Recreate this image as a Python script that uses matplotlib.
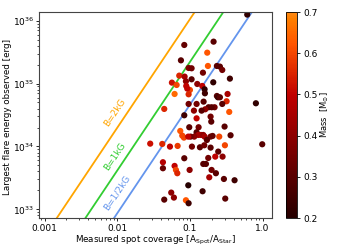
import numpy as np
import matplotlib
matplotlib.use("Agg")
import matplotlib.pyplot as plt
from matplotlib.colors import LinearSegmentedColormap

# ---- data ----
spot_cov = [0.615, 0.0836, 0.2116, 0.1731, 0.0752, 0.1769, 0.2351, 0.0959, 0.1054, 0.2587,
            0.2785, 0.151, 0.0713, 0.0845, 0.2094, 0.3549, 0.1054, 0.0565, 0.0881, 0.1262,
            0.0656, 0.0890, 0.1478, 0.100, 0.1591, 0.1608, 0.0919, 0.0615, 0.0959, 0.2351,
            0.2427, 0.2587, 0.3297, 0.809, 0.3195, 0.1542, 0.0959, 0.1235, 0.2785, 0.2184,
            0.1986, 0.1806, 0.1625, 0.1447, 0.1135, 0.3475, 0.0836, 0.1235, 0.1925, 0.1966,
            0.2998, 0.0979, 0.1316, 0.0736, 0.0784, 0.0827, 0.1235, 0.1302, 0.1417, 0.1526,
            0.1147, 0.1021, 0.1591, 0.0949, 0.3625, 0.2532, 0.1925, 0.205, 0.1713, 0.3030,
            0.1065, 0.0677, 0.1373, 0.1575, 0.1925, 0.989, 0.2453, 0.2231, 0.0836, 0.1787,
            0.2813, 0.1526, 0.166, 0.0615, 0.0642, 0.0670, 0.0990, 0.1986, 0.2278, 0.1845,
            0.2936, 0.4115, 0.0949, 0.0553, 0.0602, 0.1493, 0.0881, 0.0959, 0.3062, 0.0531,
            0.0443, 0.0284, 0.0416, 0.0425, 0.0425, 0.0443]
flare_energy = [1.25e36, 4.11e35, 4.64e35, 3.10e35, 2.34e35, 1.905e35, 1.905e35, 1.77e35, 1.75e35, 1.86e35,
                1.645e35, 1.49e35, 1.337e35, 1.29e35, 1.047e35, 1.198e35, 1.169e35, 1.035e35, 1.086e35, 9.85e34,
                9.50e34, 9.16e34, 9.16e34, 7.91e34, 8.11e34, 7.0e34, 8.31e34, 6.83e34, 6.75e34, 6.35e34,
                6.05e34, 6.05e34, 6.83e34, 4.86e34, 5.23e34, 5.16e34, 4.74e34, 4.74e34, 4.74e34, 4.20e34,
                4.20e34, 4.20e34, 3.90e34, 3.71e34, 3.71e34, 3.54e34, 3.13e34, 2.80e34, 2.98e34, 2.48e34,
                2.07e34, 2.02e34, 2.02e34, 1.764e34, 1.487e34, 1.382e34, 1.68e34, 1.523e34, 1.523e34, 1.523e34,
                1.433e34, 1.433e34, 1.433e34, 1.433e34, 1.505e34, 1.433e34, 1.433e34, 1.469e34, 1.268e34, 1.044e34,
                9.94e33, 1.019e34, 9.70e33, 1.044e34, 9.58e33, 1.083e34, 8.28e33, 6.89e33, 6.49e33, 6.56e33,
                6.89e33, 5.27e33, 5.27e33, 4.90e33, 4.23e33, 3.75e33, 4.23e33, 4.23e33, 3.75e33, 3.23e33,
                3.04e33, 2.90e33, 2.41e33, 1.845e33, 1.537e33, 1.938e33, 1.394e33, 1.249e33, 1.482e33, 9.94e33,
                3.95e34, 1.108e34, 1.096e34, 5.61e33, 4.50e33, 1.427e33]
mass = [0.22, 0.32, 0.30, 0.62, 0.30, 0.62, 0.30, 0.38, 0.35, 0.30,
        0.35, 0.35, 0.55, 0.45, 0.22, 0.25, 0.30, 0.52, 0.40, 0.40,
        0.60, 0.50, 0.50, 0.60, 0.22, 0.25, 0.50, 0.65, 0.55, 0.30,
        0.25, 0.30, 0.45, 0.22, 0.55, 0.30, 0.35, 0.35, 0.30, 0.35,
        0.30, 0.30, 0.40, 0.30, 0.40, 0.62, 0.25, 0.50, 0.35, 0.30,
        0.30, 0.30, 0.35, 0.62, 0.60, 0.60, 0.30, 0.45, 0.45, 0.40,
        0.40, 0.35, 0.45, 0.50, 0.30, 0.60, 0.35, 0.32, 0.30, 0.60,
        0.35, 0.58, 0.30, 0.35, 0.30, 0.30, 0.30, 0.50, 0.30, 0.35,
        0.40, 0.30, 0.30, 0.50, 0.60, 0.55, 0.40, 0.35, 0.30, 0.45,
        0.30, 0.25, 0.20, 0.40, 0.40, 0.25, 0.62, 0.25, 0.30, 0.50,
        0.55, 0.52, 0.55, 0.48, 0.33, 0.30]

# field-strength lines: E = E(f=1) * f**slope
line_labels = ["B=2kG", "B=1kG", "B=1/2kG"]
line_E_at_unit = [10**37.75, 10**37.07, 10**36.39]
line_slope = 1.726
line_colors = ["#ffa500", "#32cd32", "#6495ed"]
label_pos_f = [0.0093, 0.0093, 0.0099]
label_pos_E = [3.41e34, 6.8e33, 1.82e33]

x_ticks = [0.001, 0.01, 0.1, 1.0]
x_ticklabels = ["0.001", "0.01", "0.1", "1.0"]
cbar_ticks = [0.2, 0.3, 0.4, 0.5, 0.6, 0.7]

# ---- figure ----
plt.rcParams['font.family'] = ['DejaVu Sans']
fig = plt.figure(figsize=(3.39, 2.46), dpi=100)
ax = fig.add_axes([0.1165, 0.1138, 0.6867, 0.8374])
cax = fig.add_axes([0.8437, 0.1138, 0.0316, 0.8374])

base = plt.get_cmap('gist_heat')
cmap = LinearSegmentedColormap.from_list('trunc_heat', base(np.linspace(0.1, 0.77, 256)))

fgrid = np.logspace(-4, 1, 200)
for lab, e0, col, lx, ly in zip(line_labels, line_E_at_unit, line_colors, label_pos_f, label_pos_E):
    ax.plot(fgrid, e0 * fgrid**line_slope, color=col, lw=1.3, zorder=1)
    ax.text(lx, ly, lab, color=col, fontsize=6.5, rotation=56, ha='center', va='center',
            rotation_mode='anchor')

sc = ax.scatter(spot_cov, flare_energy, c=mass, cmap=cmap, vmin=0.2, vmax=0.7,
                s=20, linewidths=0, zorder=2)

ax.set_xscale('log')
ax.set_yscale('log')
ax.set_xlim(8.5e-4, 1.36)
ax.set_ylim(10**32.862, 10**36.138)
ax.set_xticks(x_ticks)
ax.set_xticklabels(x_ticklabels)
ax.tick_params(labelsize=6.5, length=2.5, width=0.6, pad=1.5)
ax.tick_params(which='minor', length=1.5, width=0.5)
ax.set_xlabel(r"Measured spot coverage [A$_{\rm Spot}$/A$_{\rm Star}$]", fontsize=6.3)
ax.set_ylabel("Largest flare energy observed [erg]", fontsize=6.3)
ax.xaxis.label.set_va('center')
ax.yaxis.label.set_va('center')
ax.xaxis.set_label_coords(0.5, -0.107)
ax.yaxis.set_label_coords(-0.137, 0.49)
for sp in ax.spines.values():
    sp.set_linewidth(0.8)
    sp.set_color('#444444')

cb = fig.colorbar(sc, cax=cax, ticks=cbar_ticks)
cb.ax.tick_params(labelsize=6.5, length=2.5, width=0.6, pad=2)
cb.set_label(r"Mass  [M$_{\odot}$]", fontsize=6)
cb.ax.yaxis.label.set_va('center')
cb.ax.yaxis.set_label_coords(3.6, 0.5)
cb.outline.set_linewidth(0.6)

fig.savefig("out.png", dpi=100)
